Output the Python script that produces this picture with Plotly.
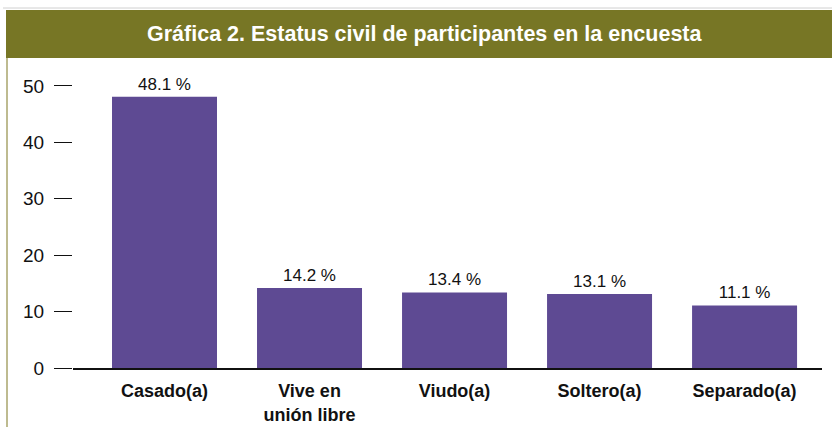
import plotly.graph_objects as go

categorias = ["Casado(a)", "Vive en<br>unión libre", "Viudo(a)", "Soltero(a)", "Separado(a)"]
porcentajes = [48.1, 14.2, 13.4, 13.1, 11.1]
ticks_y = [0, 10, 20, 30, 40, 50]

etiquetas = [f"{v} %" for v in porcentajes]

W, H = 832, 427
ml, mr, mt, mb = 73, 10, 69, 59
pw = W - ml - mr
ph = H - mt - mb

def px_x(x):
    return (x - ml) / pw

def px_y(y):
    return (H - mb - y) / ph

fuente = "Liberation Sans Narrow, Arial Narrow, Liberation Sans, Arial"

fig = go.Figure()
fig.add_trace(go.Bar(
    x=categorias, y=porcentajes,
    marker=dict(color="#5e4a93", line=dict(width=0)),
    text=etiquetas, textposition="outside",
    textfont=dict(size=17, color="#111", family=fuente),
    cliponaxis=False, width=0.724,
))

fig.update_layout(
    width=W, height=H,
    margin=dict(l=ml, r=mr, t=mt, b=mb, autoexpand=False),
    paper_bgcolor="white", plot_bgcolor="white",
    showlegend=False,
    font=dict(family=fuente, color="#111"),
    xaxis=dict(
        range=[-0.631, 4.534], automargin=False,
        showline=True, linecolor="#111", linewidth=1.5,
        ticks="", showgrid=False,
        tickfont=dict(size=18, family=fuente, color="#111", weight="bold"),
        ticklabelstandoff=6,
    ),
    yaxis=dict(
        range=[0, 53], tickvals=ticks_y, automargin=False,
        showline=False, showgrid=False, zeroline=False,
        ticks="outside", ticklen=18, tickwidth=1, tickcolor="#111",
        tickfont=dict(size=19, family=fuente, color="#111"),
        ticklabelstandoff=6,
    ),
    shapes=[
        dict(type="line", xref="paper", yref="paper",
             x0=px_x(3), x1=px_x(W), y0=px_y(8), y1=px_y(8),
             line=dict(color="#d0d0d0", width=1)),
        dict(type="rect", xref="paper", yref="paper",
             x0=px_x(6), x1=px_x(W + 2), y0=px_y(58), y1=px_y(10),
             fillcolor="#777625", line=dict(width=0), layer="below"),
        dict(type="line", xref="paper", yref="paper",
             x0=px_x(7), x1=px_x(7), y0=px_y(58), y1=px_y(H + 2),
             line=dict(color="#a8a56b", width=1.5)),
    ],
    annotations=[
        dict(text="<b>Gráfica 2. Estatus civil de participantes en la encuesta</b>",
             xref="paper", yref="paper", x=px_x(424), y=px_y(34),
             xanchor="center", yanchor="middle", showarrow=False,
             font=dict(size=21.5, color="white", family=fuente)),
    ],
)

# quitar el margen por defecto del body para que la figura quede en (0, 0)
fig.write_html("out.html", config={"displayModeBar": False},
               post_script="document.body.style.margin='0';")
